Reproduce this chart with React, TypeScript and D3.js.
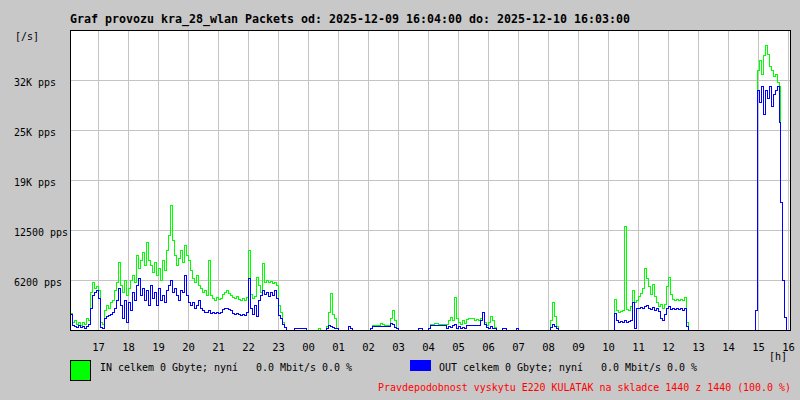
import React from 'react';
import * as d3 from 'd3';

const TITLE = 'Graf provozu kra_28_wlan Packets od: 2025-12-09 16:04:00 do: 2025-12-10 16:03:00';
const Y_UNIT = '[/s]';
const X_UNIT = '[h]';
// values in thousands of packets per second
const yTickValues = [6.25, 12.5, 18.75, 25, 31.25];
const yTickLabels = ['6200 pps', '12500 pps', '19K pps', '25K pps', '32K pps'];
const LEGEND_IN = 'IN celkem 0 Gbyte; nyní   0.0 Mbit/s 0.0 %';
const LEGEND_OUT = 'OUT celkem 0 Gbyte; nyní   0.0 Mbit/s 0.0 %';
const FOOTER = 'Pravdepodobnost vyskytu E220 KULATAK na skladce 1440 z 1440 (100.0 %)';

// dense block: minutes 0..432 after 16:04, every 4 minutes
const denseIn = [
  2.1, 1.0, 1.2, 0.8, 1.0, 0.6, 1.0, 0.8, 1.5, 1.2,
  4.8, 6.0, 5.2, 5.5, 5.0, 1.0, 0.8, 2.5, 3.1, 2.8,
  3.5, 3.8, 5.0, 6.0, 8.5, 5.6, 4.8, 6.2, 4.4, 5.2,
  6.2, 6.9, 6.0, 9.4, 7.8, 8.8, 9.8, 8.1, 11.0, 8.8,
  8.1, 7.2, 8.5, 6.9, 7.8, 6.2, 8.8, 7.5, 10.0, 11.9,
  15.6, 11.2, 9.4, 8.1, 9.0, 10.0, 8.5, 10.6, 9.4, 8.8,
  7.5, 6.5, 6.0, 6.9, 5.6, 5.2, 4.8, 5.0, 4.4, 8.8,
  4.4, 4.0, 3.8, 4.1, 3.9, 4.0, 4.5, 4.8, 5.0, 4.6,
  4.4, 4.1, 4.0, 4.2, 3.9, 3.8, 4.0, 3.8, 4.1, 10.0,
  4.5, 4.0, 4.2, 6.6, 5.6, 4.8, 8.4, 6.0, 6.2, 6.0,
  6.1, 5.9, 6.0, 5.6, 3.1, 2.2, 1.0, 0.4, 0,
];
const denseOut = [
  2.0, 0.6, 0.5, 0.4, 0.6, 0.4, 0.5, 0.2, 0.5, 0.8,
  2.8, 4.4, 4.8, 5.0, 4.0, 0.4, 0.2, 1.5, 1.8, 1.9,
  2.0, 2.2, 2.8, 3.8, 5.2, 3.1, 1.5, 3.8, 1.0, 3.5,
  2.5, 4.8, 3.8, 5.6, 6.5, 4.4, 5.2, 3.8, 5.0, 3.1,
  5.6, 4.0, 4.8, 3.1, 5.2, 3.8, 4.4, 3.5, 5.0, 5.6,
  6.2, 4.8, 5.2, 4.4, 3.8, 5.0, 4.8, 6.9, 4.4, 3.5,
  3.1, 3.5, 2.8, 3.1, 3.8, 2.8, 2.5, 2.2, 2.2, 2.5,
  2.1, 2.2, 2.1, 2.2, 2.1, 2.2, 2.6, 2.8, 2.8, 2.6,
  2.5, 2.1, 2.0, 2.1, 2.0, 1.9, 2.0, 1.9, 2.2, 6.5,
  2.8, 2.0, 3.1, 1.8, 3.8, 4.4, 5.0, 4.5, 4.8, 4.2,
  4.8, 4.4, 5.0, 4.0, 1.9, 1.5, 0.8, 0.4, 0,
];

// sparse block: minutes after 16:04
const sparseMinutes = [
  444, 448, 452, 456, 460, 464, 468, 472, 496, 500,
  512, 516, 520, 524, 528, 532, 536, 556, 560, 564,
  600, 604, 612, 620, 624, 628, 636, 640, 644, 648, 652, 656,
  696, 704, 716, 720, 728, 736, 748, 752, 756, 760, 764, 768, 772, 776, 780, 784, 788,
  792, 796, 804, 808, 812, 816, 820, 824, 828, 832, 836, 840, 844, 848, 852,
  864, 872, 892, 896, 960, 964, 968, 972, 976,
  1084, 1088, 1092, 1096, 1100, 1104, 1108, 1112, 1116, 1120, 1124, 1128, 1132, 1136, 1140,
  1144, 1148, 1152, 1156, 1160, 1164, 1168, 1172, 1176, 1180, 1184, 1188, 1192, 1196, 1200,
  1204, 1208, 1212, 1216, 1220, 1224, 1228, 1232, 1236,
  1366, 1370, 1374, 1378, 1382, 1386, 1390, 1394, 1398, 1402, 1406, 1410, 1414, 1418,
  1420, 1424, 1428, 1432, 1439,
];
const sparseIn = [
  0, 0.2, 0.3, 0.2, 0.3, 0.3, 0.2, 0, 0.2, 0,
  0.5, 2.2, 4.6, 2.0, 1.5, 0.2, 0, 0.5, 0.3, 0,
  0.3, 0.6, 0.6, 0.9, 0.8, 0.6, 0.6, 1.5, 2.5, 1.2, 0.2, 0,
  0.2, 0, 0.3, 0.7, 0.9, 0.7, 0.7, 0.8, 1.2, 1.6, 1.2, 4.1, 1.5, 1.0, 0.8, 1.2, 0.9,
  1.4, 1.5, 1.5, 1.3, 1.4, 1.2, 1.5, 2.2, 1.0, 0.6, 1.0, 1.8, 1.2, 0.4, 0,
  0.3, 0, 0.2, 0, 1.2, 3.5, 1.8, 0.5, 0,
  0, 3.9, 2.5, 2.2, 2.4, 2.5, 13.0, 2.6, 2.5, 3.0, 5.0, 3.5, 3.8, 4.2, 4.6,
  5.2, 7.8, 6.5, 5.5, 4.5, 5.8, 4.2, 3.5, 3.0, 3.2, 2.8, 3.2, 5.5, 6.6, 4.5,
  3.9, 3.8, 3.9, 3.8, 3.9, 3.8, 4.1, 1.0, 0,
  0, 2.5, 32.5, 33.8, 32.0, 34.4, 35.6, 34.5, 33.0, 32.5, 31.8, 32.0, 31.0, 30.5,
  16.0, 6.2, 1.6, 0, 0,
];
const sparseOut = [
  0, 0.2, 0.3, 0.2, 0.3, 0.3, 0.2, 0, 0, 0,
  0.3, 0.6, 0.5, 0.4, 0.2, 0.2, 0, 0.5, 0.3, 0,
  0.3, 0.5, 0.5, 0.5, 0.5, 0.5, 0.5, 0.9, 0.8, 0.4, 0.2, 0,
  0.2, 0, 0.3, 0.6, 0.6, 0.6, 0.6, 0.3, 0.5, 0.4, 0.6, 0.8, 0.3, 0.5, 0.2, 0.4, 0.3,
  0.6, 0.6, 0.6, 0.6, 0.6, 0.6, 1.2, 2.2, 0.8, 0.4, 0.3, 0.5, 0.3, 0.2, 0,
  0.3, 0, 0.2, 0, 0.4, 0.8, 0.5, 0.2, 0,
  0, 2.1, 1.2, 1.0, 1.1, 1.0, 1.2, 1.0, 1.1, 1.2, 3.5, 0.2, 2.8, 2.8, 2.9,
  2.8, 3.0, 3.1, 2.8, 2.6, 2.9, 2.5, 2.8, 2.4, 1.5, 1.2, 2.0, 2.8, 3.0, 2.6,
  2.7, 2.6, 2.7, 2.6, 2.7, 2.5, 2.8, 0.5, 0,
  0, 2.5, 30.0, 28.5, 30.5, 27.0, 30.0, 29.0, 30.5, 28.0, 29.5, 30.0, 30.5, 26.0,
  16.0, 6.2, 1.6, 0, 0,
];

const minutes = [...d3.range(0, 433, 4), ...sparseMinutes];
const inValues = [...denseIn, ...sparseIn];
const outValues = [...denseOut, ...sparseOut];

const FONT = '"DejaVu Sans Mono", "Liberation Mono", monospace';
const BG = '#c8c8c8';
const GRID = '#c4c4c4';

export default function App() {
  const start = new Date(2025, 11, 9, 16, 4);
  const end = new Date(start.getTime() + 1440 * 60000);
  const x = d3.scaleTime().domain([start, end]).range([70, 790]);
  const y = d3.scaleLinear().domain([0, 37.5]).range([330, 30]);
  const toDate = (m: number) => new Date(start.getTime() + m * 60000);
  const hours = d3.timeHour.range(d3.timeHour.ceil(start), end);
  const fmt = d3.timeFormat('%H');

  const line = d3
    .line<number>()
    .x((_, i) => x(toDate(minutes[i])) + 0.5)
    .y((d) => y(d) + 0.5)
    .curve(d3.curveStepAfter);

  const small = (s: string) => s.length * 6;

  return (
    <svg
      width={800}
      height={400}
      style={{ position: 'absolute', left: 0, top: 0, display: 'block' }}
      fontFamily={FONT}
    >
      <rect x={0} y={0} width={800} height={400} fill={BG} />
      <rect x={70} y={30} width={720} height={300} fill="#ffffff" />
      {hours.map((h) => (
        <line
          key={+h}
          x1={Math.round(x(h)) + 0.5}
          x2={Math.round(x(h)) + 0.5}
          y1={31}
          y2={330}
          stroke={GRID}
          shapeRendering="crispEdges"
        />
      ))}
      {yTickValues.map((v) => (
        <line
          key={v}
          x1={71}
          x2={790}
          y1={Math.round(y(v)) + 0.5}
          y2={Math.round(y(v)) + 0.5}
          stroke={GRID}
          shapeRendering="crispEdges"
        />
      ))}
      <path d={line(inValues) || ''} fill="none" stroke="#00ff00" strokeWidth={1} shapeRendering="crispEdges" />
      <path d={line(outValues) || ''} fill="none" stroke="#0000ff" strokeWidth={1} shapeRendering="crispEdges" />
      <rect x={70.5} y={30.5} width={720} height={300} fill="none" stroke="#000" shapeRendering="crispEdges" />

      <text x={70} y={23} fontSize={11.6} fontWeight="bold" textLength={TITLE.length * 7} lengthAdjust="spacingAndGlyphs" fill="#000">
        {TITLE}
      </text>
      <text x={15} y={40} fontSize={10.5} textLength={small(Y_UNIT)} lengthAdjust="spacingAndGlyphs" fill="#000">
        {Y_UNIT}
      </text>
      {yTickValues.map((v, i) => (
        <text key={v} x={14} y={Math.round(y(v)) + 6} fontSize={10.5} textLength={small(yTickLabels[i])} lengthAdjust="spacingAndGlyphs" fill="#000" style={{ whiteSpace: 'pre' }}>
          {yTickLabels[i]}
        </text>
      ))}
      {hours.map((h) => (
        <text key={'l' + +h} x={Math.round(x(h)) + 0.5} y={351} fontSize={10.5} textAnchor="middle" fill="#000">
          {fmt(h)}
        </text>
      ))}
      <text x={769} y={360} fontSize={10.5} textLength={small(X_UNIT)} lengthAdjust="spacingAndGlyphs" fill="#000">
        {X_UNIT}
      </text>

      <rect x={70.5} y={360.5} width={20} height={20} fill="#00ff00" stroke="#000" shapeRendering="crispEdges" />
      <text x={100} y={371} fontSize={10.5} textLength={small(LEGEND_IN)} lengthAdjust="spacingAndGlyphs" fill="#000" style={{ whiteSpace: 'pre' }}>
        {LEGEND_IN}
      </text>
      <rect x={410} y={360} width={21} height={11} fill="#0000ff" shapeRendering="crispEdges" />
      <text x={439} y={371} fontSize={10.5} textLength={small(LEGEND_OUT)} lengthAdjust="spacingAndGlyphs" fill="#000" style={{ whiteSpace: 'pre' }}>
        {LEGEND_OUT}
      </text>
      <text x={378} y={391} fontSize={10.5} textLength={413} lengthAdjust="spacingAndGlyphs" fill="#ff0000" style={{ whiteSpace: 'pre' }}>
        {FOOTER}
      </text>
    </svg>
  );
}
